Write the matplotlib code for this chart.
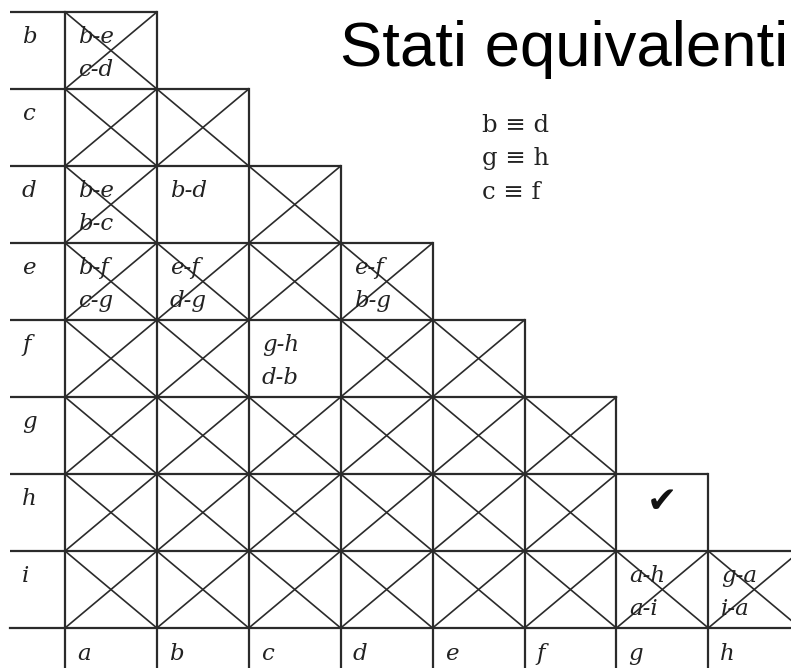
import matplotlib.pyplot as plt

# implication table for state minimisation
rows = ['b', 'c', 'd', 'e', 'f', 'g', 'h', 'i']
cols = ['a', 'b', 'c', 'd', 'e', 'f', 'g', 'h']

# implied pairs written in a cell (row, col)
implied = {
    ('b', 'a'): ['b-e', 'c-d'],
    ('d', 'a'): ['b-e', 'b-c'],
    ('d', 'b'): ['b-d'],
    ('e', 'a'): ['b-f', 'c-g'],
    ('e', 'b'): ['e-f', 'd-g'],
    ('e', 'd'): ['e-f', 'b-g'],
    ('f', 'c'): ['g-h', 'd-b'],
    ('i', 'g'): ['a-h', 'a-i'],
    ('i', 'h'): ['g-a', 'i-a'],
}
# cells that are not crossed out
kept = [('d', 'b'), ('f', 'c'), ('h', 'g')]
checked = [('h', 'g')]

equivalences = ['b \u2261 d', 'g \u2261 h', 'c \u2261 f']
title = 'Stati equivalenti'

# layout in pixels
W, H = 791, 668
x0, y0 = 65, 12
cw, rh = 91.9, 77.0
lc = '#2b2b2b'

fig = plt.figure(figsize=(W / 100, H / 100), dpi=100)
ax = fig.add_axes([0, 0, 1, 1])
ax.set_xlim(0, W)
ax.set_ylim(H, 0)
ax.axis('off')

serif_it = dict(family='DejaVu Serif', style='italic', fontsize=16.5, color='#222222')

# horizontal lines: top of each row, plus bottom of last row
for k, r in enumerate(rows):
    ax.plot([10, x0 + (k + 1) * cw], [y0 + k * rh] * 2, color=lc, lw=1.6,
            solid_capstyle='butt')
ax.plot([10, W + 5], [y0 + len(rows) * rh] * 2, color=lc, lw=1.6)

# vertical lines, down through the column-label strip
for j in range(len(cols) + 1):
    ytop = y0 + max(0, j - 1) * rh
    ax.plot([x0 + j * cw] * 2, [ytop, H + 5], color=lc, lw=1.6)

# cells
for k, r in enumerate(rows):
    ax.text(22, y0 + k * rh + 31, r, ha='left', va='baseline', **serif_it)
    for j in range(k + 1):
        c = cols[j]
        x, y = x0 + j * cw, y0 + k * rh
        if (r, c) not in kept:
            ax.plot([x, x + cw], [y, y + rh], color=lc, lw=1.2)
            ax.plot([x, x + cw], [y + rh, y], color=lc, lw=1.2)
        for n, t in enumerate(implied.get((r, c), [])):
            ax.text(x + 13, y + 31 + n * 33, t, ha='left', va='baseline', **serif_it)
        if (r, c) in checked:
            ax.text(x + cw / 2, y + rh * 0.36, '\u2714', ha='center', va='center',
                    family='DejaVu Sans', fontsize=26, color='#111111')

for j, c in enumerate(cols):
    ax.text(x0 + j * cw + 12, 660, c, ha='left', va='baseline', **serif_it)

for n, e in enumerate(equivalences):
    ax.text(482, 132 + n * 33.5, e, ha='left', va='baseline',
            family='DejaVu Serif', fontsize=17.5, color='#222222')

ax.text(340, 66, title, ha='left', va='baseline', family='Liberation Sans',
        fontsize=45.7, color='black')

fig.savefig('out.png', dpi=100)
